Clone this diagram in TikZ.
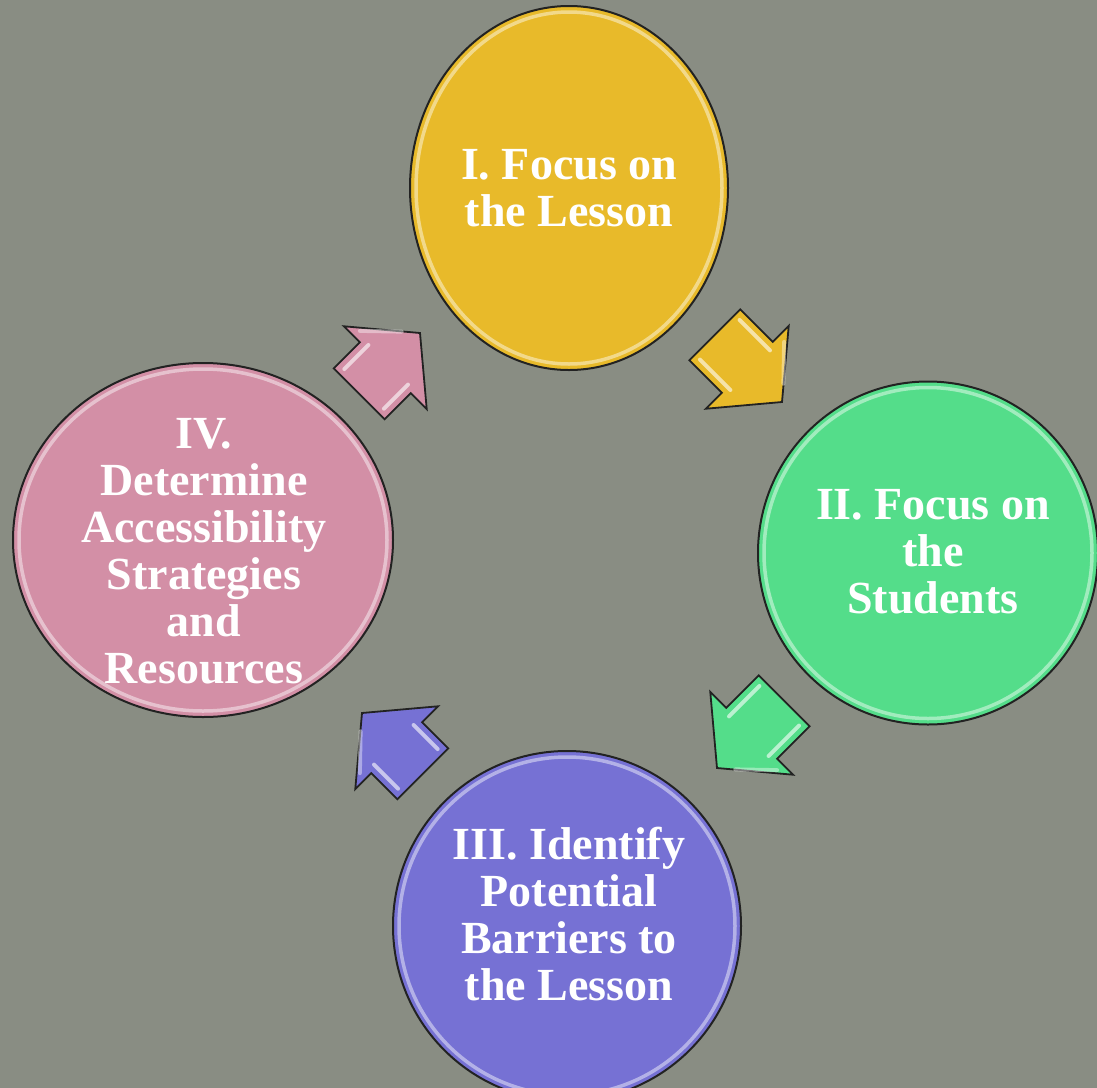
\documentclass[tikz,border=0pt]{standalone}
\usepackage{fontspec}
\setmainfont{Liberation Serif}
\usetikzlibrary{shapes.geometric,calc}

\definecolor{bg}{RGB}{137,141,131}
\definecolor{rim}{RGB}{34,34,34}
\definecolor{sun}{RGB}{232,186,42}
\definecolor{mint}{RGB}{84,221,138}
\definecolor{iris}{RGB}{118,113,212}
\definecolor{rose}{RGB}{211,143,166}

\tikzset{
  disc/.style={ellipse, draw=rim, line width=2bp, inner sep=0pt, outer sep=0pt},
  gloss/.style={draw=white, draw opacity=0.45, line width=3.5bp},
  steptext/.style={text=white, align=center, inner sep=0pt,
    font=\bfseries\fontsize{46bp}{47bp}\selectfont},
  shine/.style={draw=white, draw opacity=0.6, line width=4bp, line cap=round},
  % chunky block arrow, tip at the pic origin, pointing along +x;
  % #1 = fill colour, #2 = overall length
  pics/blockarrow/.style n args={2}{code={
    \coordinate (-tip) at (0,0);
    \filldraw[fill=#1, draw=rim, line width=1.8bp, line join=miter]
      (-tip) -- (-49,58.5) -- (-49,36) -- (-#2,36) -- (-#2,-36)
      -- (-49,-36) -- (-49,-58.5) -- cycle;
    \draw[shine] (-#2+7,28) -- (-45,28);
    \draw[shine] (-#2+7,-28) -- (-45,-28);
    \draw[shine, draw opacity=0.4] (-41,-44) -- (-12,-14);
  }}
}

\begin{document}
\begin{tikzpicture}[x=1bp,y=-1bp]
  % canvas
  \fill[bg] (0,0) rectangle (1097,1088);
  \useasboundingbox (0,0) rectangle (1097,1088);
  \clip (0,0) rectangle (1097,1088);

  % the four stages
  \node[disc, fill=sun,  minimum width=318bp, minimum height=364bp] (c1) at (569,188) {};
  \node[disc, fill=mint, minimum width=340bp, minimum height=343bp] (c2) at (928,553) {};
  \node[disc, fill=iris, minimum width=348bp, minimum height=350bp] (c3) at (567,926) {};
  \node[disc, fill=rose, minimum width=380bp, minimum height=354bp] (c4) at (203,540) {};

  % glossy inner rims
  \draw[gloss] (c1.center) ellipse [x radius=153, y radius=176];
  \draw[gloss] (c2.center) ellipse [x radius=164, y radius=165.5];
  \draw[gloss] (c3.center) ellipse [x radius=168, y radius=169];
  \draw[gloss] (c4.center) ellipse [x radius=184, y radius=171];

  % captions
  \node[steptext] (t1) at (569,188.5) {I. Focus on\\the Lesson};
  \node[steptext] (t2) at (933,552) {II. Focus on\\the\\Students};
  \node[steptext] (t3) at (569,914.5) {III. Identify\\Potential\\Barriers to\\the Lesson};
  \node[steptext] (t4) at (204,551) {IV.\\Determine\\Accessibility\\Strategies\\and\\Resources};

  % arrows between the stages
  \pic[rotate=-45]  (a1) at (782,402) {blockarrow={sun}{95}};
  \pic[rotate=-135] (a2) at (717,768) {blockarrow={mint}{95}};
  \pic[rotate=135]  (a3) at (362,713) {blockarrow={iris}{86}};
  \pic[rotate=45]   (a4) at (420,333) {blockarrow={rose}{86}};
\end{tikzpicture}
\end{document}
